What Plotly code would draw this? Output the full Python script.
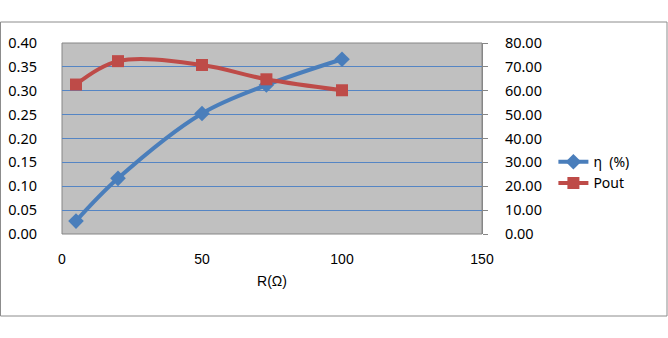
import plotly.graph_objects as go

R = [5, 20, 50, 73, 100]
eta = [5.4, 23.3, 50.5, 62.4, 73.2]
pout = [0.313, 0.362, 0.354, 0.324, 0.301]

left_ticks = [0.00, 0.05, 0.10, 0.15, 0.20, 0.25, 0.30, 0.35, 0.40]
right_ticks = [0, 10, 20, 30, 40, 50, 60, 70, 80]
x_ticks = [0, 50, 100, 150]

BLUE = "#4A7EBB"
RED = "#BE4B48"
GRID = "#5585C4"

fig = go.Figure()
fig.add_trace(go.Scatter(
    x=R, y=eta, name="η  (%)", yaxis="y",
    mode="lines+markers", line=dict(color=BLUE, width=4, shape="spline", smoothing=1),
    marker=dict(symbol="diamond", size=12, color=BLUE),
))
fig.add_trace(go.Scatter(
    x=R, y=pout, name="Pout", yaxis="y2",
    mode="lines+markers", line=dict(color=RED, width=4, shape="spline", smoothing=1),
    marker=dict(symbol="square", size=12, color=RED),
))

tickfont = dict(family="Noto Sans, Open Sans, sans-serif", size=14.5, color="#000000")
xfont = dict(family="Liberation Sans Narrow, Liberation Sans, sans-serif", size=14, color="#000000")

fig.update_layout(
    width=668, height=338,
    margin=dict(l=62, r=186, t=43, b=104, autoexpand=False),
    paper_bgcolor="white",
    plot_bgcolor="#C0C0C0",
    showlegend=True,
    legend=dict(x=1.17, y=0.46, xanchor="left", yanchor="top",
                font=dict(family="Noto Sans, Open Sans, sans-serif", size=14, color="#000"),
                bgcolor="rgba(0,0,0,0)", tracegroupgap=0, itemwidth=30),
    xaxis=dict(range=[0, 150], tickvals=x_ticks, ticktext=[str(v) for v in x_ticks],
               showgrid=False, zeroline=False, showline=False, automargin=False,
               ticks="outside", ticklen=12, tickcolor="rgba(0,0,0,0)",
               tickfont=xfont,
               title=dict(text="R(Ω)", font=xfont, standoff=10)),
    yaxis=dict(range=[0, 80], tickvals=right_ticks, ticktext=[f"{v:.2f}" for v in right_ticks],
               side="right", showgrid=True, gridcolor=GRID, gridwidth=1.3,
               zeroline=False, showline=True, linecolor="#868686", linewidth=1,
               ticks="outside", ticklen=5, tickcolor="#868686", automargin=False,
               ticklabelstandoff=14,
               tickfont=tickfont),
    yaxis2=dict(range=[0, 0.40], tickvals=left_ticks, ticktext=[f"{v:.2f}" for v in left_ticks],
                side="left", overlaying="y", showgrid=False, zeroline=False,
                showline=False, automargin=False,
                ticks="outside", ticklen=21, tickcolor="rgba(0,0,0,0)",
                tickfont=tickfont),
)

# plot-area border and outer chart frame
fig.add_shape(type="rect", xref="paper", yref="paper", x0=0, x1=1, y0=0, y1=1,
              line=dict(color="#868686", width=1), fillcolor="rgba(0,0,0,0)", layer="below")
fig.add_shape(type="rect", xref="paper", yref="paper",
              x0=(0.5 - 62) / 420, x1=(667 - 62) / 420,
              y0=(234 - 316) / 191, y1=(234 - 22) / 191,
              line=dict(color="#8C8C8C", width=1), fillcolor="rgba(0,0,0,0)")

fig.write_html("out.html")
